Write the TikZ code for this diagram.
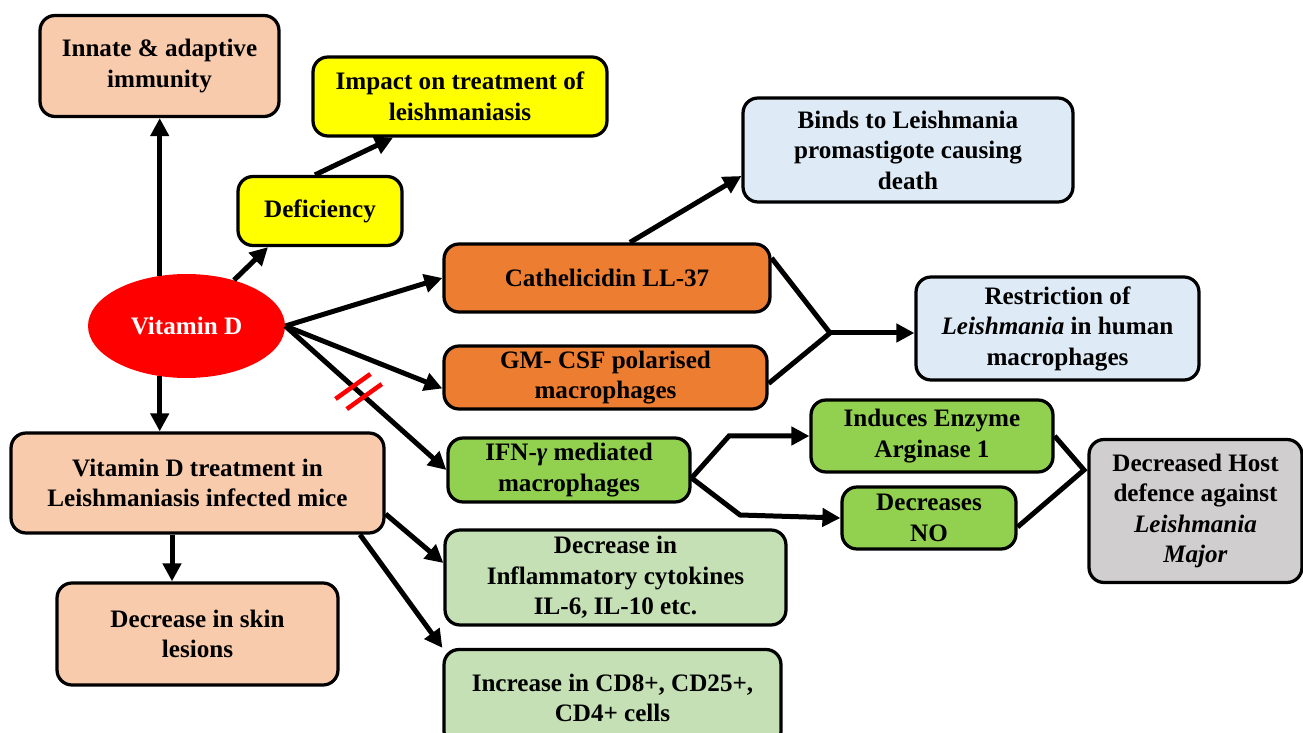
\documentclass[tikz,border=0pt]{standalone}
\usepackage{fontspec}
\setmainfont{Liberation Serif}
\usetikzlibrary{arrows.meta,calc,positioning,shapes.geometric}
\definecolor{peach}{HTML}{F8CBAD}
\definecolor{yel}{HTML}{FFFF00}
\definecolor{pale}{HTML}{DEEBF7}
\definecolor{orng}{HTML}{ED7D31}
\definecolor{grn}{HTML}{92D050}
\definecolor{lgrn}{HTML}{C5E0B4}
\definecolor{grey}{HTML}{D0CECE}
\tikzset{
  box/.style={draw=black,line width=0.065cm,rounded corners=0.3cm,align=center,
    inner sep=2pt,font=\bfseries\fontsize{14.3}{17.4}\selectfont},
  peachbox/.style={box,fill=peach},
  yelbox/.style={box,fill=yel},
  palebox/.style={box,fill=pale},
  orngbox/.style={box,fill=orng},
  grnbox/.style={box,fill=grn},
  lgrnbox/.style={box,fill=lgrn},
  greybox/.style={box,fill=grey},
  vit/.style={ellipse,fill=red,text=white,inner sep=0pt,
    font=\bfseries\fontsize{14.3}{17.4}\selectfont},
  arr/.style={line width=0.1cm,-{Triangle[length=0.36cm,width=0.36cm]}},
  link/.style={line width=0.1cm},
  cut/.style={red,line width=0.09cm},
}
\begin{document}
\begin{tikzpicture}[x=0.02cm,y=-0.02cm]
  \useasboundingbox (0,0) rectangle (1303,733);
  % ------------- left column -------------
  \node[vit,minimum width=3.94cm,minimum height=2.08cm] (vitd) at (186.5,326) {Vitamin D};
  \node[peachbox,minimum width=4.78cm,minimum height=2.02cm] (innate) at (159.5,66)
    {Innate \& adaptive\\immunity};
  \node[peachbox,minimum width=7.46cm,minimum height=2.0cm] (treat) at (197.5,483)
    {Vitamin D treatment in\\Leishmaniasis infected mice};
  \node[peachbox,minimum width=5.62cm,minimum height=2.04cm] (skin) at (197.5,634)
    {Decrease in skin\\lesions};
  % ------------- deficiency branch -------------
  \node[yelbox,minimum width=3.28cm,minimum height=1.38cm] (defic) at (320,211) {Deficiency};
  \node[yelbox,minimum width=5.88cm,minimum height=1.58cm] (impact) at (460,96.5)
    {Impact on treatment of\\leishmaniasis};
  % ------------- middle column -------------
  \node[orngbox,minimum width=6.52cm,minimum height=1.36cm] (cath) at (607,278) {Cathelicidin LL-37};
  \node[orngbox,minimum width=6.46cm,minimum height=1.26cm] (gm) at (605.5,377.5)
    {GM- CSF polarised\\macrophages};
  \node[grnbox,minimum width=4.84cm,minimum height=1.28cm] (ifn) at (569,470)
    {IFN-\textit{γ} mediated\\macrophages};
  \node[lgrnbox,minimum width=6.82cm,minimum height=1.9cm] (infl) at (615.5,577.5)
    {Decrease in\\Inflammatory cytokines\\IL-6, IL-10 etc.};
  \node[lgrnbox,minimum width=6.74cm,minimum height=1.94cm] (cd) at (612.5,698)
    {Increase in CD8+, CD25+,\\CD4+ cells};
  % ------------- right column -------------
  \node[palebox,minimum width=6.6cm,minimum height=2.08cm] (binds) at (908,150)
    {Binds to Leishmania\\promastigote causing\\death};
  \node[palebox,minimum width=5.66cm,minimum height=2.06cm] (restr) at (1057.5,328.5)
    {Restriction of\\\textit{Leishmania} in human\\macrophages};
  \node[grnbox,minimum width=4.84cm,minimum height=1.44cm] (ind) at (932,436)
    {Induces Enzyme\\Arginase 1};
  \node[grnbox,minimum width=3.48cm,minimum height=1.24cm] (dno) at (929,518)
    {Decreases\\NO};
  \node[greybox,minimum width=4.26cm,minimum height=2.86cm] (host) at (1195.5,511)
    {Decreased Host\\defence against\\\textit{Leishmania}\\\textit{Major}};
  % junctions
  \coordinate (jr) at (830,333);
  \coordinate (ja) at (729,436);
  \coordinate (jb) at (740,515);
  \coordinate (jh) at (1084,470);
  % ------------- connectors -------------
  \draw[arr] (vitd.118) -- (vitd.118 |- innate.south);
  \draw[arr] (vitd.242) -- (vitd.242 |- treat.north);
  \draw[arr] (vitd.44) -- ([xshift=-1.04cm]defic.south);
  \draw[arr] ([xshift=-0.1cm]defic.north) -- ([xshift=-1.34cm]impact.south);
  \draw[arr] (vitd.east) -- (cath.west);
  \draw[arr] (vitd.east) -- ([yshift=-0.22cm]gm.west);
  \draw[arr] (vitd.east) -- (ifn.west);
  % blocked path
  \coordinate (h1) at ($(vitd.east)!0.42!(ifn.west)$);
  \coordinate (h2) at ($(vitd.east)!0.49!(ifn.west)$);
  \draw[cut] ([shift={(-0.35cm,-0.25cm)}]h1) -- ([shift={(0.35cm,0.25cm)}]h1);
  \draw[cut] ([shift={(-0.35cm,-0.25cm)}]h2) -- ([shift={(0.35cm,0.25cm)}]h2);
  \draw[arr] ([xshift=0.46cm]cath.north) -- ([yshift=-0.52cm]binds.west);
  \draw[link] ([yshift=0.4cm]cath.east) -- (jr) -- ([yshift=-0.12cm]gm.east);
  \draw[arr] (jr) -- (jr -| restr.west);
  \draw[arr] ([yshift=-0.16cm]ifn.east) -- (ja) -- (ind.west);
  \draw[arr] ([yshift=-0.16cm]ifn.east) -- (jb) -- (dno.west);
  \draw[link] (ind.east) -- (jh) -- ([yshift=-0.18cm]dno.east);
  \draw[arr] ([xshift=-0.51cm]treat.south) -- ([xshift=-0.51cm]treat.south |- skin.north);
  \draw[arr] ([yshift=-0.62cm]treat.east) -- ([yshift=0.29cm]infl.west);
  \draw[arr] ([xshift=3.25cm]treat.south) -- (cd.north west);
\end{tikzpicture}
\end{document}
